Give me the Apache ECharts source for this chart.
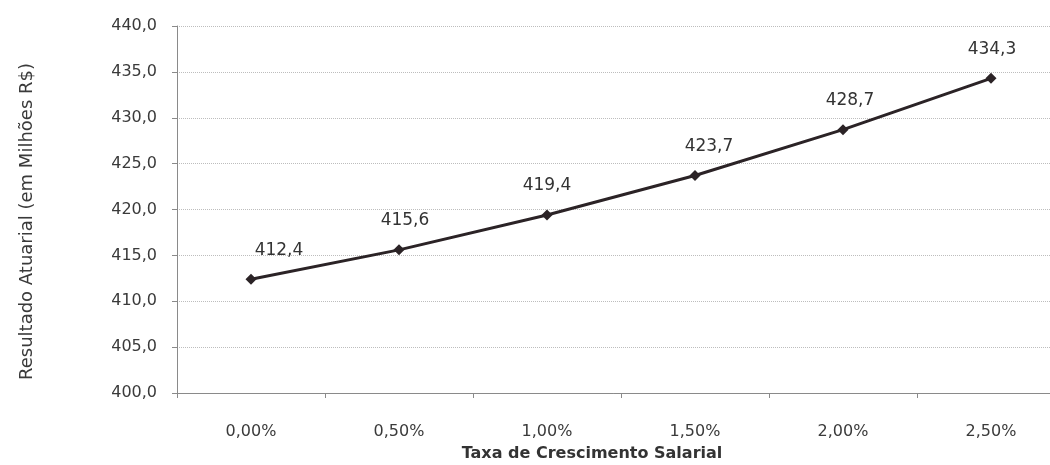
<!DOCTYPE html>
<html>
<head>
<meta charset="utf-8">
<script src="https://cdn.jsdelivr.net/npm/echarts@6/dist/echarts.min.js"></script>
<style>
html,body{margin:0;padding:0;background:#fff;overflow:hidden;}
#chart{width:1050px;height:465px;}
</style>
</head>
<body>
<div id="chart"></div>
<script>
const categories = ['0,00%', '0,50%', '1,00%', '1,50%', '2,00%', '2,50%'];
const values = [412.4, 415.6, 419.4, 423.7, 428.7, 434.3];
const yTitle = 'Resultado Atuarial (em Milhões R$)';
const xTitle = 'Taxa de Crescimento Salarial';

const labelShift = [[28, 0], [6, 0], [0, 0], [14, 0], [7, 0], [1, 0]];
const fmt = v => v.toFixed(1).replace('.', ',');

const chart = echarts.init(document.getElementById('chart'));
const font = 'DejaVu Sans';
chart.setOption({
  animation: false,
  backgroundColor: '#ffffff',
  grid: { left: 177, top: 26, width: 888, height: 367, containLabel: false, outerBoundsMode: 'none' },
  xAxis: {
    type: 'category',
    data: categories,
    boundaryGap: true,
    name: xTitle,
    nameLocation: 'middle',
    nameGap: 53,
    nameTextStyle: { fontFamily: font, fontSize: 16, fontWeight: 'bold', color: '#333', padding: [0, 0, 0, -58] },
    axisLine: { lineStyle: { color: '#8a8a8a', width: 1 } },
    axisTick: { show: true, alignWithLabel: false, length: 5, lineStyle: { color: '#8a8a8a' } },
    axisLabel: { fontFamily: font, fontSize: 16, color: '#3a3a3a', margin: 31 },
    splitLine: { show: false }
  },
  yAxis: {
    type: 'value',
    min: 400,
    max: 440,
    interval: 5,
    name: yTitle,
    nameLocation: 'middle',
    nameGap: 141,
    nameRotate: 90,
    nameTextStyle: { fontFamily: font, fontSize: 18, color: '#3a3a3a', padding: [0, 24, 0, 0] },
    axisLine: { show: true, lineStyle: { color: '#8a8a8a', width: 1 } },
    axisTick: { show: true, length: 5, lineStyle: { color: '#8a8a8a' } },
    axisLabel: { fontFamily: font, fontSize: 16, color: '#3a3a3a', margin: 20, formatter: v => fmt(v) },
    splitLine: { show: true, lineStyle: { color: '#bdbdbd', type: 'dotted', width: 1 } }
  },
  series: [{
    type: 'line',
    data: values.map((v, i) => ({
      value: v,
      label: { offset: labelShift[i] }
    })),
    symbol: 'diamond',
    symbolSize: 11,
    lineStyle: { color: '#2b2326', width: 3 },
    itemStyle: { color: '#2b2326' },
    label: {
      show: true,
      position: 'top',
      distance: 15,
      fontFamily: font,
      fontSize: 17,
      color: '#333',
      formatter: p => fmt(p.value)
    }
  }]
});
</script>
</body>
</html>
